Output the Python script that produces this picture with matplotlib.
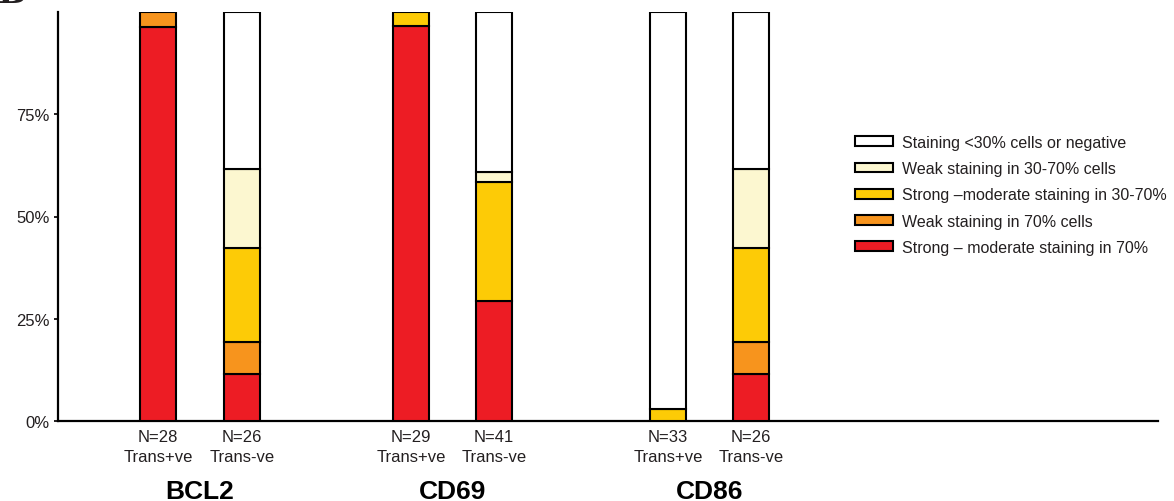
"""
staining_bars.py — Stacked staining-intensity bars for BCL2, CD69, CD86,
split by translocation status (Trans+ve / Trans-ve).

Output:
    out.png
"""

import matplotlib.pyplot as plt
import numpy as np
from matplotlib.patches import Patch
from matplotlib.transforms import blended_transform_factory

# ─── Style ────────────────────────────────────────────────────────────────────

plt.rcParams.update({
    "font.family":       ["Liberation Sans", "DejaVu Sans"],
    "font.size":         12,
    "text.color":        "#231f20",
    "axes.spines.top":   False,
    "axes.spines.right": False,
    "axes.linewidth":    1.6,
    "ytick.major.size":  3.0,
    "ytick.major.width": 1.4,
    "ytick.color":       "#231f20",
    "figure.facecolor":  "white",
    "axes.facecolor":    "white",
})

# ─── Data (case counts per staining category) ────────────────────────────────

MARKERS = ["BCL2", "CD69", "CD86"]
GROUPS = ["Trans+ve", "Trans-ve"]

N_CASES = [28, 26, 29, 41, 33, 26]

STRONG_70 = [27, 3, 28, 12, 0, 3]
WEAK_70 = [1, 2, 0, 0, 0, 2]
STRONG_30_70 = [0, 6, 1, 12, 1, 6]
WEAK_30_70 = [0, 5, 0, 1, 0, 5]
NEG_30 = [0, 10, 0, 16, 32, 10]

CATEGORIES = [
    ("Strong – moderate staining in 70%",  STRONG_70,    "#ed1c24"),
    ("Weak staining in 70% cells",         WEAK_70,      "#f7941d"),
    ("Strong –moderate staining in 30-70%", STRONG_30_70, "#fdcb06"),
    ("Weak staining in 30-70% cells",      WEAK_30_70,   "#fcf7d0"),
    ("Staining <30% cells or negative",    NEG_30,       "#ffffff"),
]

Y_TICKS = [0, 25, 50, 75]

# bar positions: two bars per marker, wide gap between markers
X_POS = np.array([0.0, 1.0, 3.01, 4.0, 6.07, 7.06])
BAR_W = 0.43


def main():
    fig = plt.figure(figsize=(11.74, 5.02), dpi=100)
    ax = fig.add_axes([58 / 1174, 1 - 422 / 502, 1100 / 1174, 409 / 502])

    n = np.array(N_CASES, dtype=float)
    bottom = np.zeros(len(n))
    for label, counts, color in CATEGORIES:
        pct = np.array(counts, dtype=float) / n * 100
        for x, b, h in zip(X_POS, bottom, pct):
            if h <= 0:
                continue
            ax.bar(x, h, bottom=b, width=BAR_W, color=color,
                   edgecolor="black", linewidth=1.5, zorder=3)
        bottom += pct

    ax.set_xlim(-1.19, 11.9)
    ax.set_ylim(0, 100)
    ax.set_yticks(Y_TICKS)
    ax.set_yticklabels([f"{t}%" for t in Y_TICKS], fontsize=12)
    ax.tick_params(axis="y", pad=3)
    ax.set_xticks([])

    # N and group labels under each bar
    tr = blended_transform_factory(ax.transData, ax.transAxes)
    for i, x in enumerate(X_POS):
        ax.text(x, -0.037, f"N={N_CASES[i]}", transform=tr,
                ha="center", va="center", fontsize=12)
        ax.text(x, -0.088, GROUPS[i % 2], transform=tr,
                ha="center", va="center", fontsize=12)

    for m, marker in enumerate(MARKERS):
        xc = X_POS[2 * m:2 * m + 2].mean()
        ax.text(xc, -0.171, marker, transform=tr, ha="center", va="center",
                fontsize=19, fontweight="bold", color="black")

    # legend, top category first
    handles = [Patch(facecolor=c, edgecolor="black", linewidth=1.5, label=l)
               for l, _, c in reversed(CATEGORIES)]
    fig.legend(handles=handles, loc="upper left",
               bbox_to_anchor=(855 / 1174, 1 - 136 / 502),
               frameon=False, fontsize=11.5, borderpad=0, borderaxespad=0,
               handlelength=2.4, handleheight=0.56, handletextpad=0.55,
               labelspacing=0.7)

    # panel letter, mostly clipped at the top edge
    fig.text(-0.002, 1 - 3 / 502, "B", fontsize=24, fontweight="bold",
             family="DejaVu Serif", va="baseline", ha="left")

    fig.savefig("out.png", dpi=100)
    plt.close(fig)


if __name__ == "__main__":
    main()
